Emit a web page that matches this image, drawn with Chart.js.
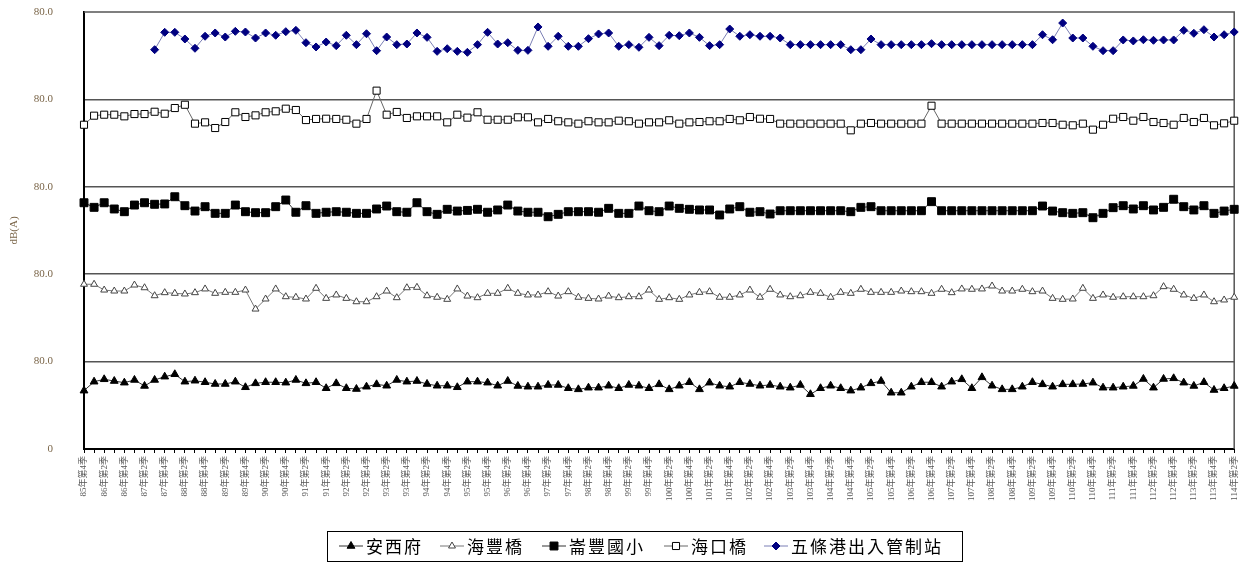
<!DOCTYPE html>
<html>
<head>
<meta charset="utf-8">
<script src="https://cdn.jsdelivr.net/npm/chart.js@4.4.1/dist/chart.umd.min.js"></script>
<style>
    html, body { margin: 0; padding: 0; background: #fff; }
    #contenedor { width: 1248px; height: 563px; }
</style>
</head>
<body>
<div id="contenedor"><canvas id="graficaRuido" width="1248" height="563"></canvas></div>
<script>
/* ==================
    DATOS
================== */

const categorias = [
    "85年第4季",
    "86年第1季", "86年第2季", "86年第3季", "86年第4季",
    "87年第1季", "87年第2季", "87年第3季", "87年第4季",
    "88年第1季", "88年第2季", "88年第3季", "88年第4季",
    "89年第1季", "89年第2季", "89年第3季", "89年第4季",
    "90年第1季", "90年第2季", "90年第3季", "90年第4季",
    "91年第1季", "91年第2季", "91年第3季", "91年第4季",
    "92年第1季", "92年第2季", "92年第3季", "92年第4季",
    "93年第1季", "93年第2季", "93年第3季", "93年第4季",
    "94年第1季", "94年第2季", "94年第3季", "94年第4季",
    "95年第1季", "95年第2季", "95年第3季", "95年第4季",
    "96年第1季", "96年第2季", "96年第3季", "96年第4季",
    "97年第1季", "97年第2季", "97年第3季", "97年第4季",
    "98年第1季", "98年第2季", "98年第3季", "98年第4季",
    "99年第1季", "99年第2季", "99年第3季", "99年第4季",
    "100年第1季", "100年第2季", "100年第3季", "100年第4季",
    "101年第1季", "101年第2季", "101年第3季", "101年第4季",
    "102年第1季", "102年第2季", "102年第3季", "102年第4季",
    "103年第1季", "103年第2季", "103年第3季", "103年第4季",
    "104年第1季", "104年第2季", "104年第3季", "104年第4季",
    "105年第1季", "105年第2季", "105年第3季", "105年第4季",
    "106年第1季", "106年第2季", "106年第3季", "106年第4季",
    "107年第1季", "107年第2季", "107年第3季", "107年第4季",
    "108年第1季", "108年第2季", "108年第3季", "108年第4季",
    "109年第1季", "109年第2季", "109年第3季", "109年第4季",
    "110年第1季", "110年第2季", "110年第3季", "110年第4季",
    "111年第1季", "111年第2季", "111年第3季", "111年第4季",
    "112年第1季", "112年第2季", "112年第3季", "112年第4季",
    "113年第1季", "113年第2季", "113年第3季", "113年第4季",
    "114年第1季", "114年第2季"
];

const anXiFu = [
    53.4, 61.6, 63.8, 62.2, 60.7, 63.2, 57.7, 63.2, 66.2, 68.4,
    61.6, 62.5, 61.1, 59.5, 59.5, 61.6, 56.5, 60.1, 61.1, 61.1,
    60.7, 63.2, 60.1, 61.1, 55.6, 60.1, 55.6, 54.9, 57.0, 59.2,
    57.9, 63.2, 61.6, 62.2, 59.5, 57.9, 57.9, 56.5, 61.6, 61.6,
    60.7, 57.9, 62.2, 57.7, 57.0, 57.0, 58.6, 58.6, 55.6, 54.6,
    56.1, 56.1, 57.9, 55.6, 58.6, 57.9, 55.6, 59.2, 54.6, 57.9,
    61.1, 54.6, 60.7, 57.9, 57.0, 61.1, 59.5, 57.9, 58.6, 57.0,
    56.1, 58.6, 50.1, 55.6, 57.9, 55.6, 53.4, 56.1, 60.1, 62.2,
    51.5, 51.5, 57.0, 61.1, 61.1, 57.0, 61.6, 63.8, 55.6, 65.6,
    57.9, 54.6, 54.6, 57.0, 61.1, 59.2, 57.0, 59.2, 59.2, 59.5,
    60.7, 56.1, 56.1, 57.0, 57.7, 64.1, 56.1, 64.1, 64.7, 60.7,
    57.7, 61.1, 54.0, 55.6, 57.7
];

const haiFengQiao = [
    70.8, 70.8, 65.5, 64.6, 64.6, 70.1, 67.6, 60.3, 63.1, 62.5,
    61.9, 63.1, 66.5, 62.5, 63.4, 63.4, 65.5, 48.1, 57.3, 66.5,
    59.4, 58.9, 57.3, 67.1, 57.9, 61.0, 57.9, 54.8, 54.8, 59.4,
    64.6, 58.5, 67.6, 68.0, 60.3, 58.9, 57.0, 66.5, 60.0, 58.5,
    62.5, 62.5, 67.1, 62.5, 61.0, 61.0, 64.0, 60.0, 64.0, 58.9,
    57.9, 57.3, 60.0, 58.5, 59.4, 59.4, 65.5, 57.0, 58.5, 57.0,
    61.0, 63.4, 64.0, 58.9, 58.9, 61.0, 65.5, 58.9, 66.2, 61.0,
    59.4, 60.3, 63.4, 62.5, 58.9, 63.4, 62.5, 66.2, 63.4, 63.4,
    63.4, 64.6, 64.0, 64.0, 62.5, 66.2, 63.1, 66.5, 66.2, 66.5,
    69.2, 64.6, 64.6, 66.2, 64.0, 64.6, 57.9, 57.0, 57.3, 67.1,
    57.9, 61.0, 58.9, 59.4, 59.4, 59.4, 60.3, 68.6, 66.2, 61.0,
    57.9, 61.0, 54.8, 56.4, 58.9
];

const lunFengGuoXiao = [
    65.4, 61.2, 65.4, 59.7, 57.2, 63.3, 65.4, 64.0, 64.3, 70.9,
    62.7, 57.8, 61.8, 55.7, 55.7, 63.3, 57.2, 56.3, 56.3, 61.8,
    67.9, 56.7, 62.7, 55.7, 56.7, 57.2, 56.7, 55.7, 55.7, 59.7,
    62.4, 57.2, 56.7, 65.4, 57.2, 54.8, 59.4, 57.8, 58.4, 59.4,
    56.7, 58.8, 63.3, 57.8, 56.7, 56.7, 52.6, 54.8, 57.2, 57.2,
    57.2, 56.7, 60.3, 55.7, 55.7, 62.4, 58.1, 57.2, 62.4, 60.3,
    59.4, 58.8, 58.8, 54.2, 59.7, 61.8, 56.7, 57.2, 55.1, 58.1,
    58.1, 58.1, 58.1, 58.1, 58.1, 58.1, 57.2, 61.2, 61.8, 58.1,
    58.1, 58.1, 58.1, 58.1, 66.4, 58.1, 58.1, 58.1, 58.1, 58.1,
    58.1, 58.1, 58.1, 58.1, 58.1, 62.4, 57.8, 56.3, 55.7, 56.3,
    51.7, 55.7, 60.9, 62.7, 59.7, 62.7, 58.8, 61.2, 68.6, 61.8,
    58.8, 62.7, 55.7, 57.8, 59.4
];

const haiKouQiao = [
    56.8, 65.1, 66.0, 66.0, 64.5, 66.6, 66.6, 68.7, 66.9, 72.1,
    75.1, 57.8, 59.0, 53.8, 59.3, 68.2, 63.9, 65.4, 68.2, 69.1,
    71.5, 70.3, 61.1, 62.1, 62.3, 62.1, 61.4, 57.8, 62.1, 88.0,
    66.0, 68.5, 63.0, 64.5, 64.5, 64.5, 59.0, 66.0, 63.3, 68.2,
    61.4, 61.4, 61.4, 63.6, 63.6, 59.0, 62.1, 60.0, 59.0, 57.8,
    60.0, 59.0, 59.0, 60.5, 60.0, 57.8, 59.0, 59.0, 60.9, 57.8,
    59.0, 59.3, 60.0, 60.0, 62.1, 60.9, 63.9, 62.3, 62.1, 57.8,
    57.8, 57.8, 57.8, 57.8, 57.8, 57.8, 51.7, 57.8, 58.4, 57.8,
    57.8, 57.8, 57.8, 57.8, 74.2, 57.8, 57.8, 57.8, 57.8, 57.8,
    57.8, 57.8, 57.8, 57.8, 57.8, 58.4, 58.4, 56.8, 56.3, 57.8,
    52.3, 56.8, 62.3, 63.9, 60.5, 63.9, 59.3, 58.4, 56.8, 63.0,
    59.3, 63.0, 56.3, 58.1, 60.5
];

const wuTiaoGang = [
    null, null, null, null, null, null, null, 45.5, 61.4, 61.4,
    55.3, 46.8, 57.8, 60.8, 57.1, 62.3, 61.7, 56.2, 60.8, 58.7,
    62.0, 63.2, 51.9, 48.0, 52.5, 49.2, 58.7, 50.1, 60.1, 44.6,
    57.1, 50.1, 50.7, 60.8, 56.8, 44.0, 46.4, 44.0, 43.1, 50.1,
    61.4, 50.7, 51.9, 44.9, 44.9, 66.3, 48.6, 57.8, 48.6, 48.6,
    55.6, 59.9, 60.8, 48.6, 50.1, 47.7, 56.8, 49.2, 58.7, 58.3,
    60.8, 56.8, 49.2, 50.1, 64.4, 57.8, 59.2, 57.8, 57.8, 56.2,
    50.1, 50.1, 50.1, 50.1, 50.1, 50.1, 45.5, 45.5, 55.3, 50.1,
    50.1, 50.1, 50.1, 50.1, 51.0, 50.1, 50.1, 50.1, 50.1, 50.1,
    50.1, 50.1, 50.1, 50.1, 50.1, 59.2, 54.6, 69.9, 56.2, 56.2,
    48.6, 44.6, 44.6, 54.4, 53.5, 54.6, 54.1, 54.4, 54.4, 63.2,
    60.5, 63.8, 57.1, 59.2, 61.7
];

// cada estacion ocupa una franja de 80 dB apilada sobre la anterior
const alturaFranja = 80;
const numFranjas = 5;
const marcasY = [0, 80, 160, 240, 320, 400];

/* ==================
    ESTILOS
================== */

const fuenteSerif = "'Liberation Serif', 'Noto Sans CJK TC', serif";
const fuenteLeyenda = "'Noto Sans CJK TC', sans-serif";
const colorEje = "#7a6548";

const estaciones = [
    { nombre: "安西府", datos: anXiFu, punto: "triangle", radio: 4.5, relleno: "#000", borde: "#000", linea: "#333" },
    { nombre: "海豐橋", datos: haiFengQiao, punto: "triangle", radio: 4, relleno: "#fff", borde: "#444", linea: "#777" },
    { nombre: "崙豐國小", datos: lunFengGuoXiao, punto: "rect", radio: 5.6, relleno: "#000", borde: "#000", linea: "#333" },
    { nombre: "海口橋", datos: haiKouQiao, punto: "rect", radio: 5, relleno: "#fff", borde: "#000", linea: "#666" },
    { nombre: "五條港出入管制站", datos: wuTiaoGang, punto: "rectRot", radio: 4, relleno: "#000080", borde: "#000080", linea: "#7b7fb5" }
];

function crearDatasets() {
    return estaciones.map((est, i) => ({
        label: est.nombre,
        data: est.datos.map((v) => (v === null ? null : v + i * alturaFranja)),
        borderColor: est.linea,
        borderWidth: 1,
        pointStyle: est.punto,
        pointRadius: est.radio,
        pointBackgroundColor: est.relleno,
        pointBorderColor: est.borde,
        pointBorderWidth: 1,
        tension: 0,
        fill: false,
        spanGaps: false,
    }));
}

/* ==================
    PLUGINS
================== */

const marcoPlugin = {
    id: "marco",
    beforeDatasetsDraw(chart) {
        const { ctx, chartArea } = chart;
        ctx.save();
        ctx.strokeStyle = "#555";
        ctx.lineWidth = 1.5;
        ctx.beginPath();
        ctx.moveTo(chartArea.left, chartArea.top);
        ctx.lineTo(chartArea.right, chartArea.top);
        ctx.lineTo(chartArea.right, chartArea.bottom);
        ctx.stroke();
        ctx.restore();
    },
};

const posicionesLeyenda = [339, 440, 542, 664, 764];

const leyendaPlugin = {
    id: "leyendaCaja",
    afterDraw(chart) {
        const ctx = chart.ctx;
        const yCentro = 546;
        ctx.save();
        ctx.strokeStyle = "#000";
        ctx.lineWidth = 1;
        ctx.strokeRect(327.5, 531.5, 635, 30);
        ctx.font = "17px " + fuenteLeyenda;
        ctx.letterSpacing = "2px";
        ctx.textBaseline = "middle";
        ctx.textAlign = "left";

        chart.data.datasets.forEach((ds, i) => {
            const x = posicionesLeyenda[i];
            ctx.strokeStyle = ds.borderColor;
            ctx.lineWidth = 1;
            ctx.beginPath();
            ctx.moveTo(x, yCentro);
            ctx.lineTo(x + 24, yCentro);
            ctx.stroke();

            ctx.fillStyle = ds.pointBackgroundColor;
            ctx.strokeStyle = ds.pointBorderColor;
            Chart.helpers.drawPoint(ctx, {
                pointStyle: ds.pointStyle,
                radius: ds.pointRadius,
                borderWidth: 1,
                rotation: 0,
            }, x + 12, yCentro);

            ctx.fillStyle = "#000";
            ctx.fillText(ds.label, x + 27, yCentro + 1);
        });
        ctx.restore();
    },
};

/* ==================
    GRAFICA
================== */

function renderizarGrafica() {
    const canvas = document.getElementById("graficaRuido");
    if (!canvas || typeof Chart === "undefined") {
        return;
    }

    new Chart(canvas.getContext("2d"), {
        type: "line",
        data: {
            labels: categorias,
            datasets: crearDatasets(),
        },
        options: {
            responsive: false,
            animation: false,
            layout: {
                padding: { top: 12, right: 11, bottom: 0, left: 0 },
            },
            plugins: {
                legend: { display: false },
                tooltip: { enabled: false },
            },
            scales: {
                x: {
                    type: "category",
                    offset: false,
                    afterFit: (scale) => { scale.height = 114; },
                    grid: {
                        drawOnChartArea: false,
                        drawTicks: true,
                        tickLength: 4,
                        color: "#000",
                    },
                    border: { display: true, color: "#000", width: 2 },
                    ticks: {
                        autoSkip: false,
                        minRotation: 90,
                        maxRotation: 90,
                        padding: 3,
                        color: "#555",
                        font: { family: fuenteSerif, size: 9 },
                        callback: (valor, indice) => (indice % 2 === 0 ? categorias[indice] : ""),
                    },
                },
                y: {
                    min: 0,
                    max: alturaFranja * numFranjas,
                    afterFit: (scale) => { scale.width = 84; },
                    afterBuildTicks: (scale) => {
                        scale.ticks = marcasY.map((v) => ({ value: v }));
                    },
                    grid: {
                        drawTicks: true,
                        tickLength: 31,
                        tickColor: "rgba(0,0,0,0)",
                        lineWidth: 1.5,
                        color: (c) => (c.tick && c.tick.value > 0 && c.tick.value < 400 ? "#555" : "rgba(0,0,0,0)"),
                    },
                    border: { display: true, color: "#000", width: 2 },
                    ticks: {
                        padding: 0,
                        color: colorEje,
                        font: { family: fuenteSerif, size: 11 },
                        callback: (valor) => (valor === 0 ? "0" : "80.0"),
                    },
                    title: {
                        display: true,
                        text: "dB(A)",
                        color: colorEje,
                        font: { family: fuenteSerif, size: 11 },
                        padding: { top: 8, bottom: 0 },
                    },
                },
            },
        },
        plugins: [marcoPlugin, leyendaPlugin],
    });
}

if (document.readyState === "loading") {
    document.addEventListener("DOMContentLoaded", renderizarGrafica);
} else {
    renderizarGrafica();
}
</script>
</body>
</html>
